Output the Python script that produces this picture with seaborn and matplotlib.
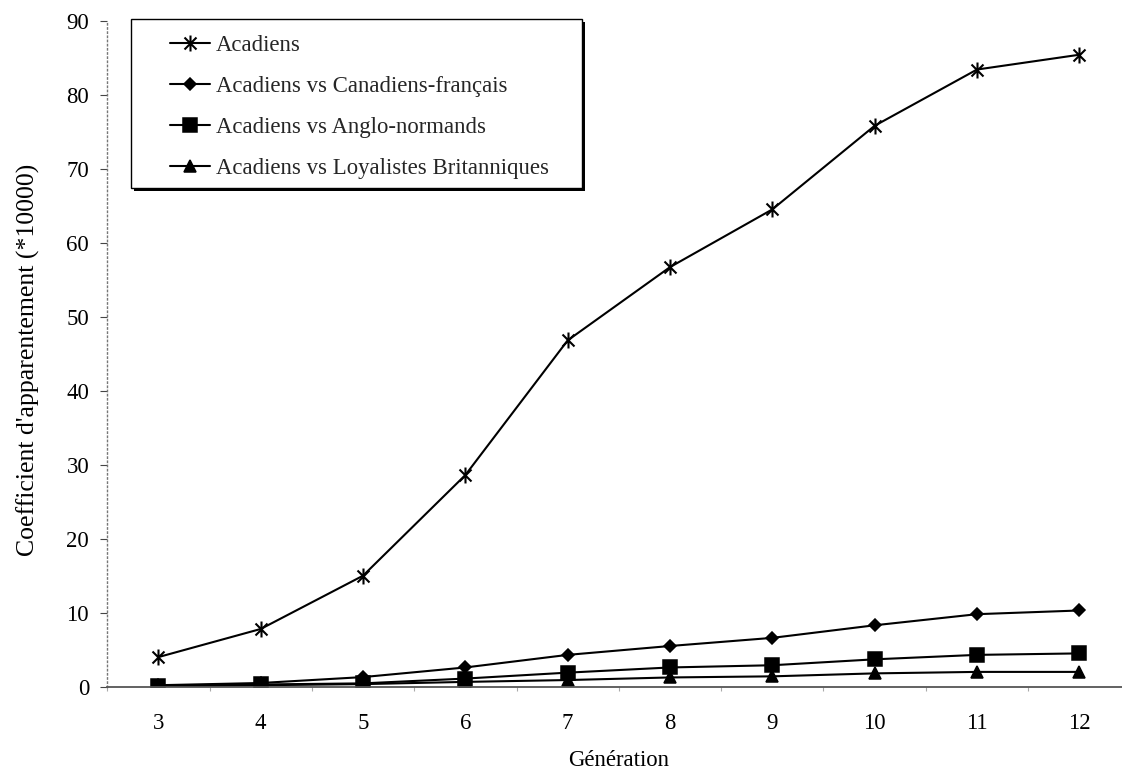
import numpy as np
import pandas as pd
import matplotlib
matplotlib.use("Agg")
import matplotlib.pyplot as plt
from matplotlib.path import Path
from matplotlib.patches import Rectangle
import seaborn as sns

# Coefficient d'apparentement (*10000) par génération
generations = [3, 4, 5, 6, 7, 8, 9, 10, 11, 12]
acadiens = [4.0, 7.8, 15.0, 28.6, 46.8, 56.7, 64.5, 75.8, 83.4, 85.4]
vs_canadiens_francais = [0.2, 0.5, 1.3, 2.6, 4.3, 5.5, 6.6, 8.3, 9.8, 10.3]
vs_anglo_normands = [0.1, 0.3, 0.45, 1.1, 1.9, 2.6, 2.9, 3.7, 4.3, 4.5]
vs_loyalistes = [0.05, 0.2, 0.35, 0.65, 0.9, 1.25, 1.4, 1.8, 2.0, 2.0]

series_names = [
    "Acadiens",
    "Acadiens vs Canadiens-français",
    "Acadiens vs Anglo-normands",
    "Acadiens vs Loyalistes Britanniques",
]
series_values = [acadiens, vs_canadiens_francais, vs_anglo_normands, vs_loyalistes]
y_ticks = list(range(0, 91, 10))

df = pd.DataFrame({
    "Génération": generations * len(series_names),
    "coef": [v for vals in series_values for v in vals],
    "serie": np.repeat(series_names, len(generations)),
})

sns.set_theme(style="white")
plt.rcParams["font.family"] = ["Liberation Serif", "DejaVu Serif"]
FS = 16.4

# asterisk-like star: vertical bar crossed by an X
star = Path(
    [(0, -1), (0, 1), (-0.75, -0.75), (0.75, 0.75), (-0.75, 0.75), (0.75, -0.75)],
    [Path.MOVETO, Path.LINETO] * 3,
)

fig = plt.figure(figsize=(11.22, 7.70), dpi=100)
ax = fig.add_axes([0.09554, 0.10818, 0.9120, 0.86494])

sns.lineplot(
    data=df, x="Génération", y="coef",
    hue="serie", style="serie",
    hue_order=series_names, style_order=series_names,
    palette=["black"] * 4,
    markers=[star, "D", "s", "^"], dashes=False,
    linewidth=1.5, markeredgecolor="black", markeredgewidth=1.1,
    legend=False, ax=ax,
)

marker_sizes = [11.5, 6.2, 9.6, 8.8]
edge_widths = [1.5, 1.1, 1.1, 1.1]
for line, ms, mew in zip(ax.lines, marker_sizes, edge_widths):
    line.set_markersize(ms)
    line.set_markeredgewidth(mew)
    line.set_markerfacecolor("black")
    line.set_markeredgecolor("black")

ax.set_xlim(2.5, 12.5)
ax.set_ylim(0, 90)
ax.set_xticks(generations)
ax.set_xticks([g - 0.5 for g in generations] + [generations[-1] + 0.5], minor=True)
ax.set_yticks(y_ticks)

for side in ("top", "right"):
    ax.spines[side].set_visible(False)
ax.spines["left"].set_linestyle((0, (1, 2)))
ax.spines["left"].set_color("#777777")
ax.spines["left"].set_linewidth(1.0)
ax.spines["bottom"].set_color("#555555")
ax.spines["bottom"].set_linewidth(1.3)
ax.spines["bottom"].set_linestyle((0, (7, 1)))

ax.tick_params(axis="y", left=True, direction="out", length=5, width=0.8,
               color="#444444", pad=8, labelsize=FS, labelcolor="black")
ax.tick_params(axis="x", which="major", bottom=True, length=0, pad=19,
               labelsize=FS, labelcolor="black")
ax.tick_params(axis="x", which="minor", bottom=True, length=3, width=0.8,
               color="#aaaaaa", direction="out")

ax.set_xlabel("Génération", fontsize=FS, color="black")
ax.xaxis.set_label_coords(0.5, -0.095)
ax.set_ylabel("Coefficient d'apparentement (*10000)", fontsize=18.5, color="black")
ax.yaxis.set_label_coords(-0.066, 0.49)

# legend box with a drop shadow
W, H = 1122.0, 770.0
bx, by, bw, bh = 131, 19, 451, 169
shadow = Rectangle(((bx + 3) / W, 1 - (by + bh + 3) / H), bw / W, bh / H,
                   transform=fig.transFigure, facecolor="black",
                   edgecolor="none", zorder=4, clip_on=False)
frame = Rectangle((bx / W, 1 - (by + bh) / H), bw / W, bh / H,
                  transform=fig.transFigure, facecolor="white",
                  edgecolor="black", linewidth=1.0, zorder=4.1, clip_on=False)
ax.add_patch(shadow)
ax.add_patch(frame)

leg = ax.legend(
    ax.lines[:4], series_names,
    loc="upper left", bbox_to_anchor=(170 / W, 1 - 35 / H),
    bbox_transform=fig.transFigure, frameon=False,
    handlelength=1.75, handletextpad=0.25, labelspacing=0.88,
    borderpad=0, borderaxespad=0, numpoints=1, fontsize=FS,
)
leg.set_zorder(5)

fig.savefig("out.png", dpi=100)
